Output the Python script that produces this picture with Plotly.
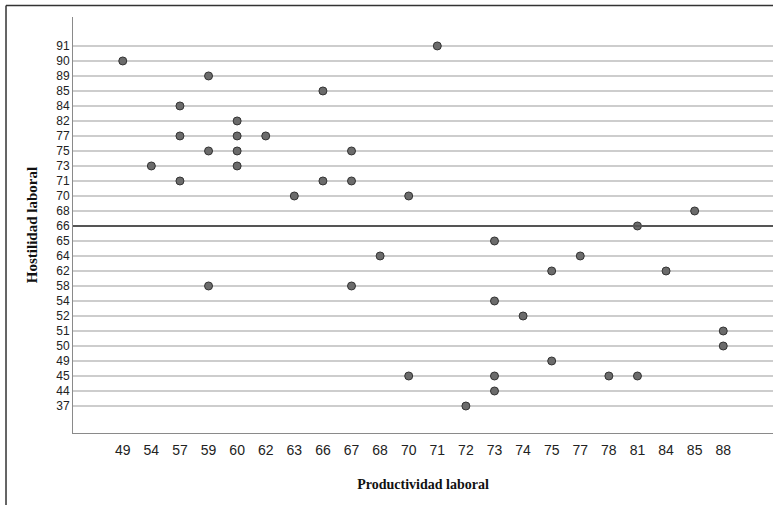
import plotly.graph_objects as go

# Category orders (as shown on axes)
x_categories = [49, 54, 57, 59, 60, 62, 63, 66, 67, 68, 70, 71, 72, 73, 74, 75, 77, 78, 81, 84, 85, 88]
y_categories = [37, 44, 45, 49, 50, 51, 52, 54, 58, 62, 64, 65, 66, 68, 70, 71, 73, 75, 77, 82, 84, 85, 89, 90, 91]

# Data points (Productividad laboral, Hostilidad laboral)
productividad = [71, 49, 59, 66, 57, 60, 57, 60, 62, 59, 60, 67, 54, 60, 57, 66, 67,
                 63, 70, 85, 81, 73, 68, 77, 75, 84, 59, 67, 73, 74, 88, 88, 75,
                 70, 73, 78, 81, 73, 72]
hostilidad = [91, 90, 89, 85, 84, 82, 77, 77, 77, 75, 75, 75, 73, 73, 71, 71, 71,
              70, 70, 68, 66, 65, 64, 64, 62, 62, 58, 58, 54, 52, 51, 50, 49,
              45, 45, 45, 45, 44, 37]

reference_value = 66

xs = [str(v) for v in productividad]
ys = [str(v) for v in hostilidad]
xcats = [str(v) for v in x_categories]
ycats = [str(v) for v in y_categories]

fig = go.Figure()
fig.add_trace(go.Scatter(
    x=xs, y=ys, mode="markers",
    marker=dict(size=8, color="#6b6b6b", line=dict(color="#333333", width=1)),
    showlegend=False, hoverinfo="x+y",
))

ref_idx = ycats.index(str(reference_value))

shapes = [
    # reference line
    dict(type="line", xref="paper", yref="y", x0=0, x1=1, y0=ref_idx, y1=ref_idx,
         line=dict(color="#555555", width=2), layer="above"),
    # outer frame (top and left)
    dict(type="line", xref="paper", yref="paper", x0=-0.0957, x1=1.02, y0=1.0276, y1=1.0276,
         line=dict(color="#333333", width=1.5), layer="above"),
    dict(type="line", xref="paper", yref="paper", x0=-0.0957, x1=-0.0957, y0=1.0276, y1=-0.2,
         line=dict(color="#333333", width=1.5), layer="above"),
]

serif = "Liberation Serif, Times New Roman, serif"
sans = "Liberation Sans, Arial, sans-serif"

fig.update_layout(
    width=773, height=505,
    margin=dict(l=73, r=0, t=17, b=72),
    plot_bgcolor="white", paper_bgcolor="white",
    shapes=shapes,
    font=dict(family=serif, color="#111111"),
    xaxis=dict(
        type="category", categoryorder="array", categoryarray=xcats,
        range=[-1.74, 22.74], showgrid=False, zeroline=False,
        showline=True, linecolor="#8a8a8a", linewidth=1, mirror=False,
        ticks="", ticklabelstandoff=4, tickfont=dict(family=sans, size=14, color="#222222"),
        title=dict(text="<b>Productividad laboral</b>", font=dict(family=serif, size=14, color="#111111"), standoff=22),
        fixedrange=True,
    ),
    yaxis=dict(
        type="category", categoryorder="array", categoryarray=ycats,
        range=[-1.8, 25.93], showgrid=True, gridcolor="#cdcdcd", gridwidth=2,
        zeroline=False, showline=True, linecolor="#8a8a8a", linewidth=1,
        ticks="", tickfont=dict(family=sans, size=12, color="#222222"),
        title=dict(text="<b>Hostilidad laboral</b>", font=dict(family=serif, size=15, color="#111111"), standoff=14),
        fixedrange=True,
    ),
)

fig.write_html("out.html", config={"displayModeBar": False},
               post_script="document.body.style.margin='0';document.body.style.overflow='hidden';")
